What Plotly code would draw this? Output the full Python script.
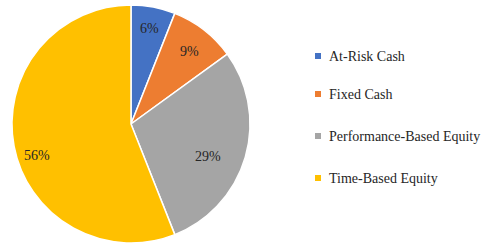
import math
import plotly.graph_objects as go

categories = ["At-Risk Cash", "Fixed Cash", "Performance-Based Equity", "Time-Based Equity"]
values = [6, 9, 29, 56]
colors = ["#4472C4", "#ED7D31", "#A5A5A5", "#FFC000"]

# label placement (style): radial fraction of R and angular nudge in degrees
label_radius = [0.82, 0.78, 0.70, 0.83]
label_nudge = [0, 1, 7, -7.5]

W, H = 488, 248
FONT = "Liberation Serif, Times New Roman, Times, serif"
TXT = "#262626"

def px(x):
    return x / W

def py(y):
    return (H - y) / H

cx, cy, R = 131, 124, 119
fig = go.Figure()
fig.add_trace(go.Pie(
    labels=categories, values=values, sort=False, direction="clockwise", rotation=0,
    marker=dict(colors=colors, line=dict(color="white", width=1.5)),
    textinfo="none",
    domain=dict(x=[px(cx - R), px(cx + R)], y=[py(cy + R), py(cy - R)]),
    showlegend=False, hoverinfo="label+percent",
))

total = sum(values)
cum = 0
for v, rf, nd in zip(values, label_radius, label_nudge):
    mid = (cum + v / 2) / total * 2 * math.pi + math.radians(nd)
    cum += v
    lx = cx + rf * R * math.sin(mid)
    ly = cy - rf * R * math.cos(mid)
    fig.add_annotation(x=px(lx), y=py(ly), xref="paper", yref="paper",
                       text=f"{round(v / total * 100)}%", showarrow=False,
                       xanchor="center", yanchor="middle",
                       font=dict(family=FONT, size=14, color=TXT))

legend_y = [56, 94, 136, 178]
for cat, col, yy in zip(categories, colors, legend_y):
    fig.add_shape(type="rect", xref="paper", yref="paper",
                  x0=px(315), x1=px(321), y0=py(yy + 3), y1=py(yy - 3),
                  fillcolor=col, line=dict(width=0))
    fig.add_annotation(x=px(327), y=py(yy), xref="paper", yref="paper",
                       text=cat, showarrow=False, xanchor="left", yanchor="middle",
                       font=dict(family=FONT, size=14, color=TXT))

fig.update_layout(width=W, height=H, margin=dict(l=0, r=0, t=0, b=0),
                  paper_bgcolor="white", plot_bgcolor="white")
fig.write_html("out.html", config={"displayModeBar": False},
               post_script="document.body.style.margin='0px';")
